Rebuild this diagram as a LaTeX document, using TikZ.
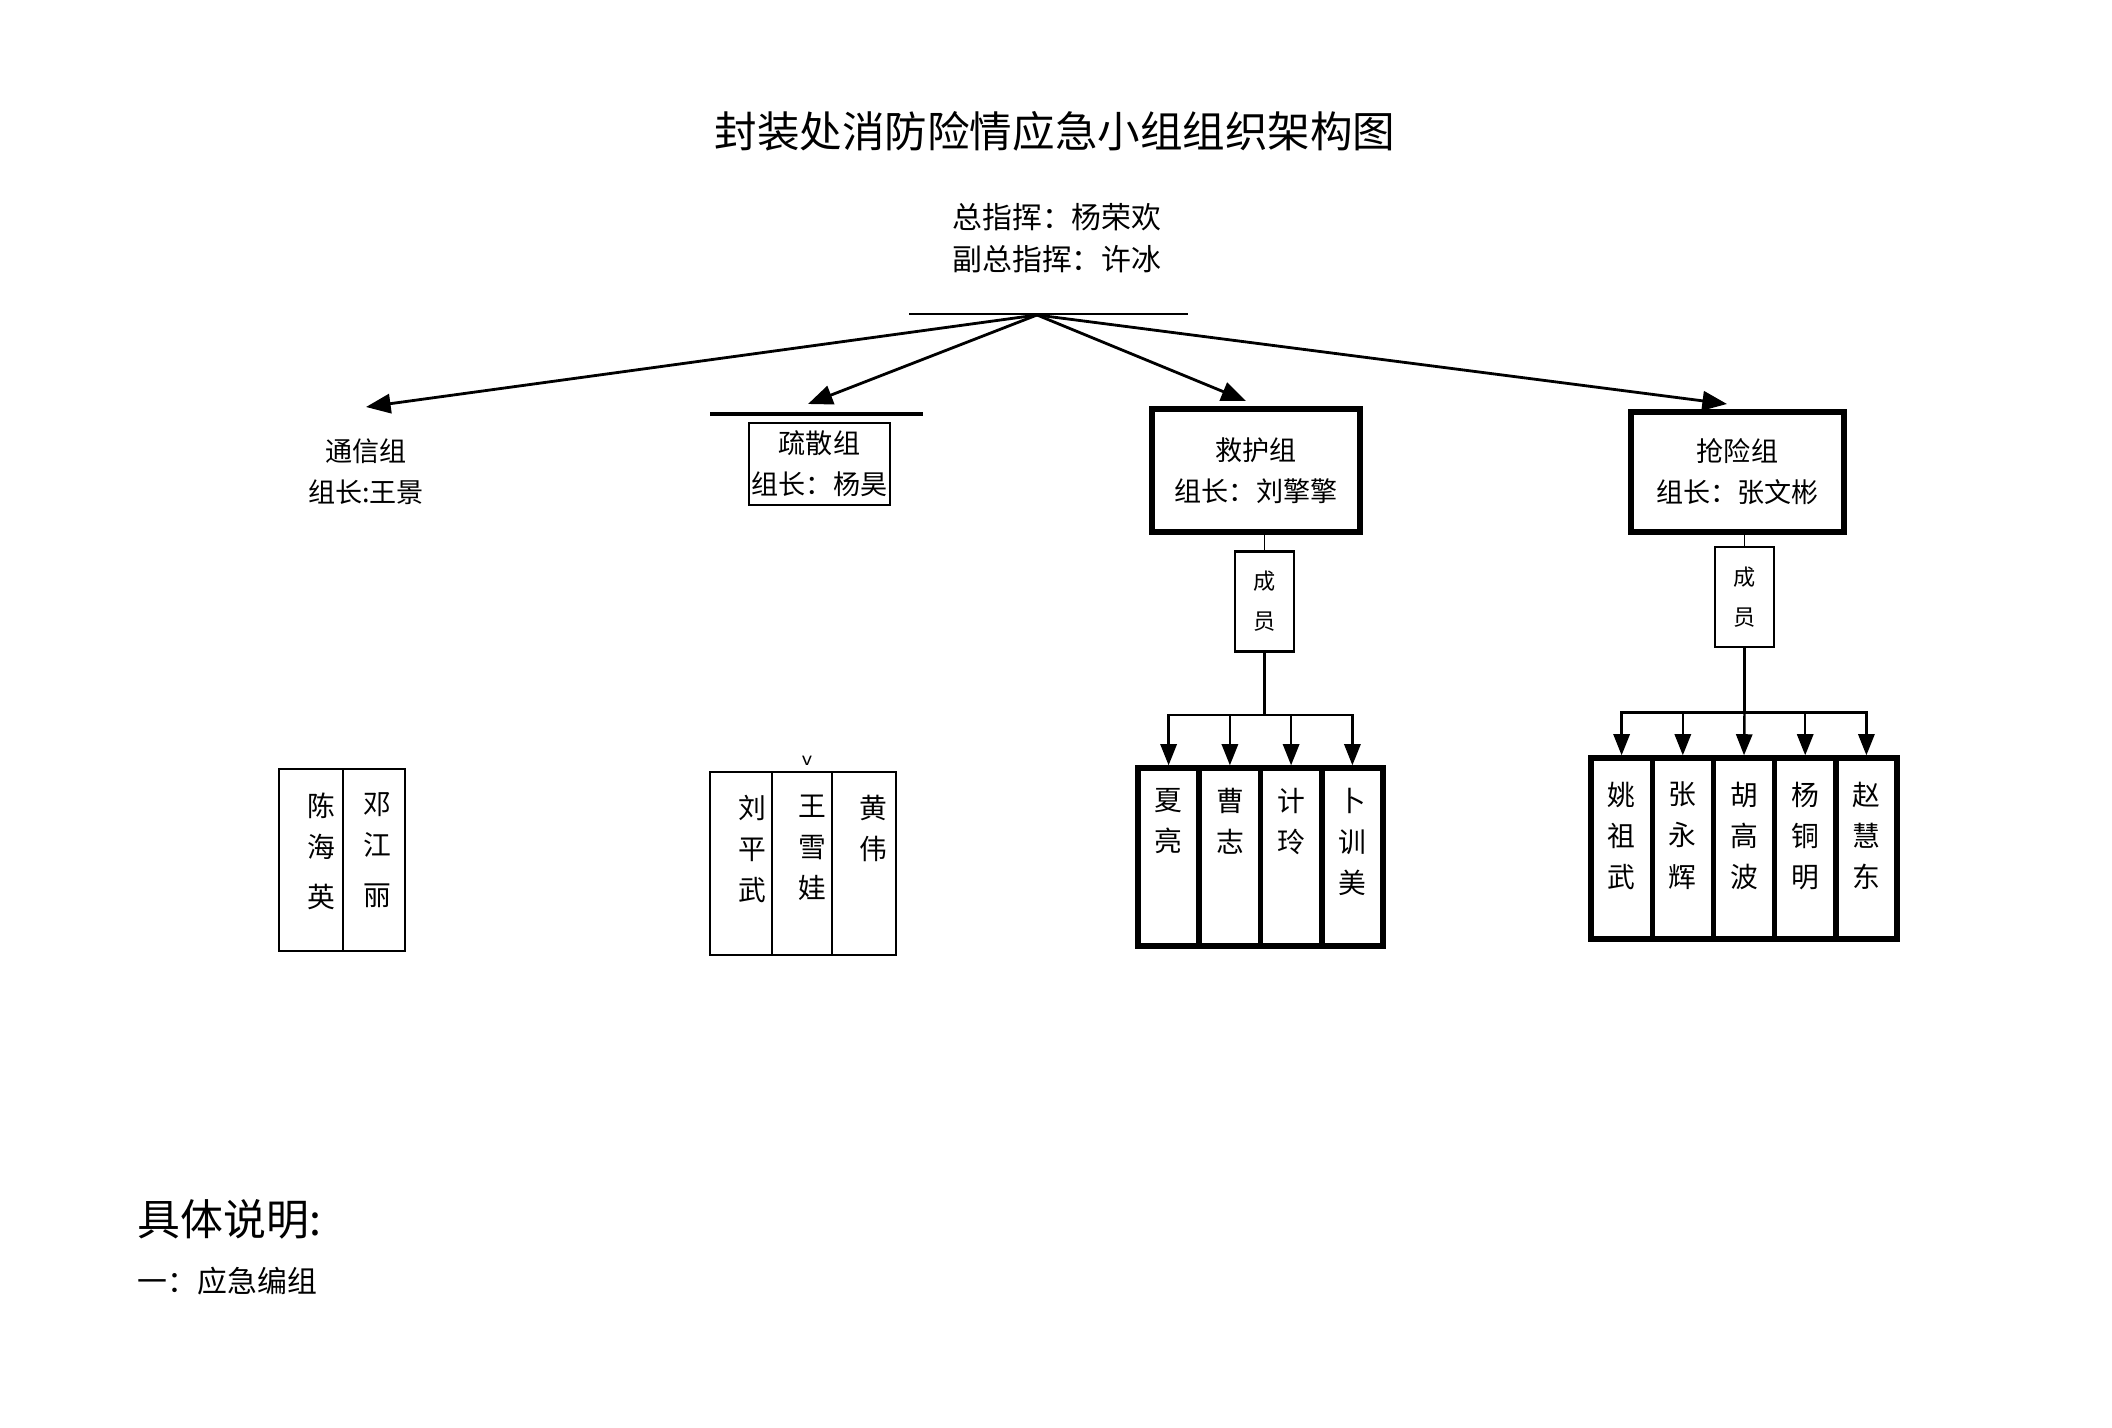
\documentclass[tikz,border=0pt]{standalone}
\usepackage{fontspec}
\setmainfont{Noto Sans CJK SC}
\usetikzlibrary{arrows.meta,positioning}

% font sizes
\newcommand\ttlsize{\fontsize{12.1pt}{14pt}\selectfont}
\newcommand\cmdsize{\fontsize{8.5pt}{11.9pt}\selectfont}
\newcommand\grpsize{\fontsize{7.7pt}{11.6pt}\selectfont}
\newcommand\cysize{\fontsize{6.3pt}{11.4pt}\selectfont}
\newcommand\memsize{\fontsize{7.9pt}{11.7pt}\selectfont}
\newcommand\descsize{\fontsize{12.2pt}{14pt}\selectfont}

\begin{document}
\begin{tikzpicture}[x=0.01cm,y=-0.01cm,
    toparrow/.style={line width=0.8pt,-{Triangle[length=7pt,width=5.5pt]}},
    memarrow/.style={line width=0.7pt,-{Triangle[length=6pt,width=4.6pt]}},
    leadbox/.style={draw,line width=1.8pt,font=\grpsize,align=center,inner sep=0pt},
    cybox/.style={draw,line width=0.8pt,font=\cysize,align=center,inner sep=0pt,
        minimum width=0.59cm,minimum height=1.0cm},
    thincol/.style={draw,line width=0.5pt,minimum height=1.82cm,inner sep=0pt},
    thickcol/.style={draw,line width=1.5pt,minimum width=0.61cm,inner sep=0pt},
    memname/.style={font=\memsize,align=center,inner sep=0pt,anchor=north}]
\useasboundingbox (0,0) rectangle (2112,1428);

    % Title
    \node[font=\ttlsize] (title) at (1055,131) {封装处消防险情应急小组组织架构图};

    % Commanders
    \node[font=\cmdsize,align=center] (chief) at (1057,238) {总指挥：杨荣欢\\副总指挥：许冰};
    \coordinate (hubL) at (909,314);
    \coordinate (hubR) at (1188,314);
    \coordinate (hub) at (1037,315);
    \draw[line width=0.5pt] (hubL) -- (hubR);

    % Arrow tips
    \coordinate (txtip) at (366,407);
    \coordinate (sstip) at (808,404);
    \coordinate (jhtip) at (1246,401);
    \coordinate (qxtip) at (1727,404);
    \draw[toparrow] (hub) -- (txtip);
    \draw[toparrow] (hub) -- (sstip);
    \draw[toparrow] (hub) -- (jhtip);
    \draw[toparrow] (hub) -- (qxtip);

    % Communication group
    \node[font=\grpsize,align=center] (tx) at (366,472) {通信组\\组长:王景};

    % Evacuation group
    \coordinate (ssbarL) at (710,414);
    \coordinate (ssbarR) at (923,414);
    \draw[line width=1.4pt] (ssbarL) -- (ssbarR);
    \node[draw,line width=0.5pt,font=\grpsize,align=center,inner sep=0pt,
        minimum width=1.41cm,minimum height=0.82cm] (ss) at (819.5,464) {疏散组\\组长：杨昊};

    % Rescue group
    \node[leadbox,minimum width=2.08cm,minimum height=1.23cm] (jh) at (1256,470.5)
        {救护组\\组长：刘擎擎};
    \node[cybox] (jcy) at (1264.5,601.5) {成\\员};
    \draw[line width=0.5pt] (jcy.north) -- (jcy.north |- jh.south);

    % Emergency repair group
    \node[leadbox,minimum width=2.13cm,minimum height=1.20cm] (qx) at (1737.5,472)
        {抢险组\\组长：张文彬};
    \node[cybox] (qcy) at (1744.5,597) {成\\员};
    \draw[line width=0.5pt] (qcy.north) -- (qcy.north |- qx.south);

    % Communication members
    \node[thincol,minimum width=0.64cm] (t1) at (311,860) {};
    \node[thincol,minimum width=0.62cm] (t2) at (374,860) {};
    \node[memname] (t1t) at (321,792) {陈\\海\\[2.5pt]英};
    \node[memname] (t2t) at (377,792) {邓\\江\\[2.5pt]丽};

    % Evacuation members
    \node[font=\sffamily\fontsize{6pt}{7pt}\selectfont] (vmark) at (807,761) {v};
    \node[thincol,minimum width=0.62cm,minimum height=1.83cm] (s1) at (741,863.5) {};
    \node[thincol,minimum width=0.60cm,minimum height=1.83cm] (s2) at (802,863.5) {};
    \node[thincol,minimum width=0.64cm,minimum height=1.83cm] (s3) at (864,863.5) {};
    \node[memname] (s1t) at (752,794) {刘\\平\\武};
    \node[memname] (s2t) at (812,794) {王\\雪\\娃};
    \node[memname] (s3t) at (873,794) {黄\\伟};

    % Rescue members
    \path (jcy.south) ++(0,62) coordinate (jbus);
    \draw[line width=0.7pt] (jcy.south) -- (jbus);
    \node[thickcol,minimum height=1.78cm] (j1) at (1168.6,857) {};
    \node[thickcol,minimum height=1.78cm] (j2) at (1229.9,857) {};
    \node[thickcol,minimum height=1.78cm] (j3) at (1291.1,857) {};
    \node[thickcol,minimum height=1.78cm] (j4) at (1352.4,857) {};
    \draw[memarrow] (jbus) -| (j1.north);
    \draw[memarrow] (jbus) -| (j2.north);
    \draw[memarrow] (jbus) -| (j3.north);
    \draw[memarrow] (jbus) -| (j4.north);
    \node[memname] (j1t) at ([yshift=-0.22cm]j1.north) {夏\\亮};
    \node[memname] (j2t) at ([yshift=-0.22cm]j2.north) {曹\\志};
    \node[memname] (j3t) at ([yshift=-0.22cm]j3.north) {计\\玲};
    \node[memname] (j4t) at ([yshift=-0.22cm]j4.north) {卜\\训\\美};

    % Repair members
    \path (qcy.south) ++(0,64) coordinate (qbus);
    \draw[line width=0.7pt] (qcy.south) -- (qbus);
    \node[thickcol,minimum height=1.81cm] (q1) at (1621.6,848.5) {};
    \node[thickcol,minimum height=1.81cm] (q2) at (1682.8,848.5) {};
    \node[thickcol,minimum height=1.81cm] (q3) at (1744,848.5) {};
    \node[thickcol,minimum height=1.81cm] (q4) at (1805.2,848.5) {};
    \node[thickcol,minimum height=1.81cm] (q5) at (1866.4,848.5) {};
    \draw[memarrow] (qbus) -| (q1.north);
    \draw[memarrow] (qbus) -| (q2.north);
    \draw[memarrow] (qbus) -- (q3.north);
    \draw[memarrow] (qbus) -| (q4.north);
    \draw[memarrow] (qbus) -| (q5.north);
    \node[memname] (q1t) at ([yshift=-0.26cm]q1.north) {姚\\祖\\武};
    \node[memname] (q2t) at ([yshift=-0.26cm]q2.north) {张\\永\\辉};
    \node[memname] (q3t) at ([yshift=-0.26cm]q3.north) {胡\\高\\波};
    \node[memname] (q4t) at ([yshift=-0.26cm]q4.north) {杨\\铜\\明};
    \node[memname] (q5t) at ([yshift=-0.26cm]q5.north) {赵\\慧\\东};

    % Notes below
    \node[font=\descsize,anchor=west,inner sep=0pt] (desc) at (137,1219) {具体说明:};
    \node[font=\cmdsize,anchor=west,inner sep=0pt] (sect) at (137,1281) {一：应急编组};

\end{tikzpicture}
\end{document}
